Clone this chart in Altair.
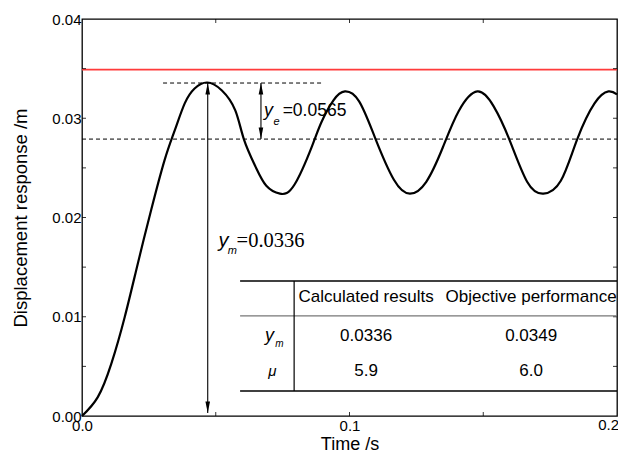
import altair as alt
import pandas as pd

# ---- data ----
time_s = [0.000, 0.0059, 0.0110, 0.0160, 0.0209, 0.0259, 0.0309, 0.0347,
          0.0384, 0.0421, 0.0468, 0.0523, 0.0573, 0.0605, 0.0649, 0.0689, 0.0740,
          0.0794, 0.0860, 0.0895, 0.0940, 0.0983, 0.1036, 0.1096, 0.1166, 0.1226,
          0.1287, 0.1348, 0.1408, 0.1478, 0.1539, 0.1597, 0.1664, 0.1725, 0.1790,
          0.1850, 0.1916, 0.1968, 0.2000]
disp_m = [0.0000, 0.0019, 0.0053, 0.0100, 0.0154, 0.0208, 0.0258, 0.0288,
          0.0315, 0.0330, 0.0336, 0.0328, 0.0308, 0.0279, 0.0251, 0.0232, 0.0224,
          0.0233, 0.0272, 0.0296, 0.0318, 0.0327, 0.0317, 0.0280, 0.0238, 0.0224,
          0.0236, 0.0270, 0.0307, 0.0327, 0.0312, 0.0279, 0.0236, 0.0224, 0.0237,
          0.0278, 0.0315, 0.0327, 0.0324]

objective_ym = 0.0349        # red line
peak_ym = 0.03355            # y_m
steady_line = 0.0279         # lower dashed line
peak_t = 0.0470
ye_arrow_t = 0.0669

x_ticks = [0.0, 0.1]          # labels drawn by the axis
x_last_tick = [0.2]           # last label, kept inside the page
y_ticks = [0.00, 0.01, 0.02, 0.03, 0.04]
x_minor = [0.05, 0.10, 0.15]
y_minor = [0.005, 0.01, 0.015, 0.02, 0.025, 0.03, 0.035]

col_headers = ["Calculated results", "Objective performance"]
row_ym = ["0.0336", "0.0349"]
row_mu = ["5.9", "6.0"]

W, H = 535, 397
SANS = "Liberation Sans"
SERIF = "Liberation Serif"

xs = alt.Scale(domain=[0, 0.2], nice=False, zero=False)
ys = alt.Scale(domain=[0, 0.04], nice=False, zero=False)

x_axis = alt.Axis(values=x_ticks, format=".1f", ticks=False, domain=False, grid=False,
                  labelFlush=False, labelPadding=2, labelFont=SANS, labelFontSize=15,
                  labelColor="black", titleFont=SANS, titleFontSize=18,
                  titleFontWeight="normal", titleColor="black", titlePadding=2)
y_axis = alt.Axis(values=y_ticks, format=".2f", ticks=False, domain=False, grid=False,
                  labelFlush=False, labelPadding=1, labelFont=SANS, labelFontSize=15,
                  labelColor="black", titleFont=SANS, titleFontSize=18.5,
                  titleFontWeight="normal", titleColor="black", titlePadding=21)
X_TITLE = "Time /s"
Y_TITLE = "Displacement response /m"


def X(f="t"):
    return alt.X(f, type="quantitative", scale=xs, axis=x_axis, title=X_TITLE)


def Y(f="y"):
    return alt.Y(f, type="quantitative", scale=ys, axis=y_axis, title=Y_TITLE)


curve_df = pd.DataFrame({"t": time_s, "y": disp_m})

curve = alt.Chart(curve_df).mark_line(
    color="black", strokeWidth=2.2, interpolate="natural"
).encode(x=X(), y=Y())

red = alt.Chart(pd.DataFrame({"y": [objective_ym]})).mark_rule(
    color="#ff3b3b", strokeWidth=1.6).encode(y=Y())

dashed = alt.Chart(pd.DataFrame({
    "t": [0.0303, 0.0], "t2": [0.0901, 0.2], "y": [peak_ym, steady_line]
})).mark_rule(color="black", strokeWidth=1, strokeDash=[4, 3]).encode(
    x=X(), x2="t2", y=Y())

shafts = alt.Chart(pd.DataFrame({
    "t": [peak_t, ye_arrow_t], "y": [peak_ym, peak_ym], "y2": [0.0003, steady_line]
})).mark_rule(color="black", strokeWidth=1.1).encode(x=X(), y=Y(), y2="y2")

up_heads = alt.Chart(pd.DataFrame({"t": [peak_t, ye_arrow_t], "y": [peak_ym, peak_ym]})).mark_point(
    shape="M0,0L-0.2,1L0.2,1Z", filled=True, color="black", opacity=1, size=529, strokeWidth=0
).encode(x=X(), y=Y())

down_heads = alt.Chart(pd.DataFrame({"t": [peak_t, ye_arrow_t], "y": [0.0003, steady_line]})).mark_point(
    shape="M0,0L-0.2,-1L0.2,-1Z", filled=True, color="black", opacity=1, size=529, strokeWidth=0
).encode(x=X(), y=Y())

# inward ticks on all four sides
xt = pd.DataFrame({"t": x_minor})
yt = pd.DataFrame({"y": y_minor})
tick_style = dict(color="black", strokeWidth=0.8)
ticks_bottom = alt.Chart(xt).mark_rule(**tick_style).encode(x=X(), y=alt.value(H), y2=alt.value(H - 4))
ticks_top = alt.Chart(xt).mark_rule(**tick_style).encode(x=X(), y=alt.value(0), y2=alt.value(4))
ticks_left = alt.Chart(yt).mark_rule(**tick_style).encode(y=Y(), x=alt.value(0), x2=alt.value(4))
ticks_right = alt.Chart(yt).mark_rule(**tick_style).encode(y=Y(), x=alt.value(W), x2=alt.value(W - 4))

last_label = alt.Chart(pd.DataFrame({"t": x_last_tick, "s": ["0.2"]})).mark_text(
    font=SANS, fontSize=15, color="black", align="right", baseline="top", dx=2
).encode(x=X(), y=alt.value(H + 2), text="s:N")


def txt(df, **kw):
    base = dict(color="black", baseline="alphabetic", align="left")
    base.update(kw)
    return alt.Chart(df).mark_text(**base).encode(x=X(), y=Y(), text="s:N")


# y_e = 0.0565
ye_y = txt(pd.DataFrame({"t": [0.0680], "y": [0.0302], "s": ["y"]}), font=SANS, fontSize=18, fontStyle="italic")
ye_e = txt(pd.DataFrame({"t": [0.0716], "y": [0.0293], "s": ["e"]}), font=SANS, fontSize=11, fontStyle="italic")
ye_v = txt(pd.DataFrame({"t": [0.0750], "y": [0.0302], "s": ["=0.0565"]}), font=SANS, fontSize=17.5)

# y_m = 0.0336
ym_y = txt(pd.DataFrame({"t": [0.0510], "y": [0.0170], "s": ["y"]}), font=SANS, fontSize=20, fontStyle="italic")
ym_m = txt(pd.DataFrame({"t": [0.0545], "y": [0.0163], "s": ["m"]}), font=SANS, fontSize=11, fontStyle="italic")
ym_v = txt(pd.DataFrame({"t": [0.0578], "y": [0.0170], "s": ["=0.0336"]}), font=SERIF, fontSize=20.5)

# table
tbl_lines = alt.Chart(pd.DataFrame({
    "t": [0.0591, 0.0591], "t2": [0.2, 0.2], "y": [0.0136, 0.00252]
})).mark_rule(color="black", strokeWidth=1.5).encode(x=X(), x2="t2", y=Y())
tbl_mid = alt.Chart(pd.DataFrame({"t": [0.0591], "t2": [0.2], "y": [0.01008]})).mark_rule(
    color="#777777", strokeWidth=1.2).encode(x=X(), x2="t2", y=Y())
tbl_vert = alt.Chart(pd.DataFrame({"t": [0.0793], "y": [0.0136], "y2": [0.00252]})).mark_rule(
    color="black", strokeWidth=1.2).encode(x=X(), y=Y(), y2="y2")

col_t = [0.1062, 0.1679]
hdr = txt(pd.DataFrame({"t": col_t, "y": [0.01199] * 2, "s": col_headers}),
          font=SANS, fontSize=17, align="center", baseline="middle")
r1 = txt(pd.DataFrame({"t": col_t, "y": [0.00806] * 2, "s": row_ym}),
         font=SANS, fontSize=17, align="center", baseline="middle")
r2 = txt(pd.DataFrame({"t": col_t, "y": [0.00453] * 2, "s": row_mu}),
         font=SANS, fontSize=17, align="center", baseline="middle")
r1_y = txt(pd.DataFrame({"t": [0.0684], "y": [0.00760], "s": ["y"]}), font=SANS, fontSize=18, fontStyle="italic")
r1_m = txt(pd.DataFrame({"t": [0.0722], "y": [0.00700], "s": ["m"]}), font=SANS, fontSize=10, fontStyle="italic")
r2_mu = txt(pd.DataFrame({"t": [0.0712], "y": [0.00453], "s": ["μ"]}), font=SANS, fontSize=15,
            fontStyle="italic", align="center", baseline="middle")

chart = alt.layer(
    curve, red, dashed, shafts, up_heads, down_heads,
    ticks_bottom, ticks_top, ticks_left, ticks_right, last_label,
    ye_y, ye_e, ye_v, ym_y, ym_m, ym_v,
    tbl_lines, tbl_mid, tbl_vert, hdr, r1, r2, r1_y, r1_m, r2_mu,
).properties(
    width=W, height=H,
    autosize=alt.AutoSizeParams(type="none"),
    padding={"left": 74, "top": 11, "right": 1, "bottom": 38},
    background="white",
).configure_view(
    stroke="black", strokeWidth=1.3
)

chart.save("out.html", embed_options={"renderer": "svg", "actions": False})
